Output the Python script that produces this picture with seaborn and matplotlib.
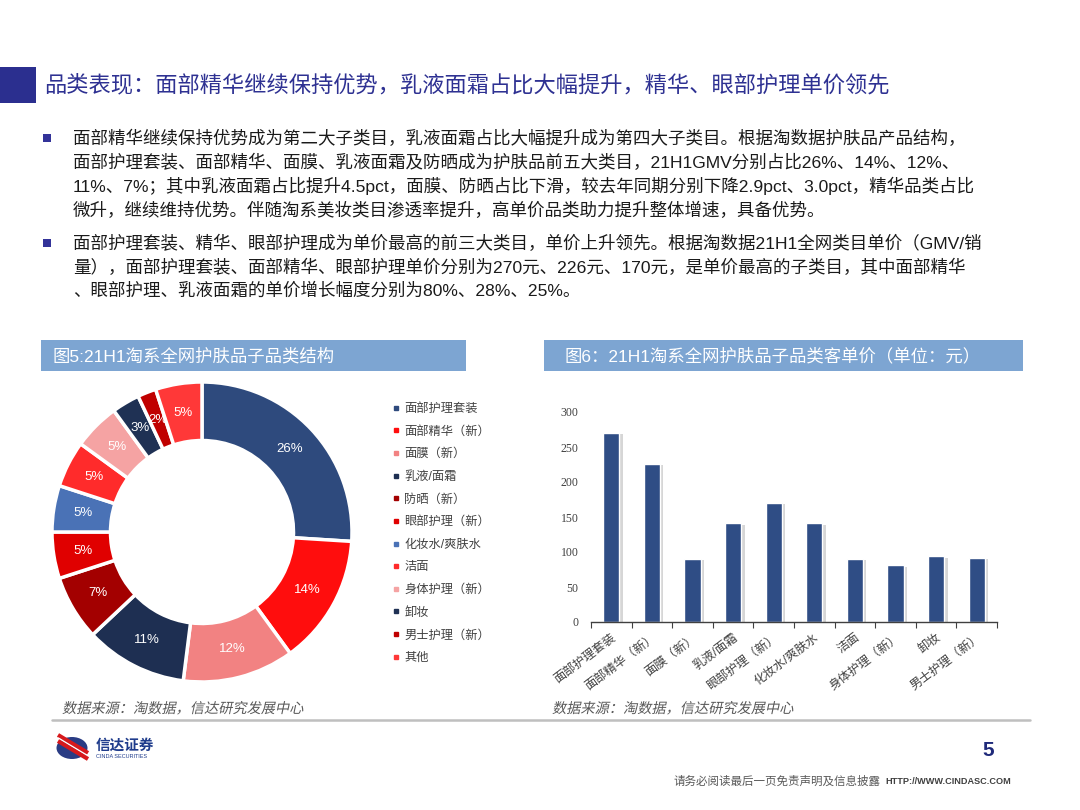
import numpy as np
import pandas as pd
import matplotlib
matplotlib.use('Agg')
import matplotlib.pyplot as plt
import matplotlib.patheffects as pe
from matplotlib.lines import Line2D
from matplotlib.patches import Rectangle, Ellipse, PathPatch
from matplotlib.textpath import TextPath
from matplotlib.font_manager import FontProperties
from matplotlib.transforms import Affine2D
import seaborn as sns

# data: donut (share of GMV, %)
share_labels = ['面部护理套装', '面部精华（新）', '面膜（新）', '乳液/面霜', '防晒（新）', '眼部护理（新）',
                '化妆水/爽肤水', '洁面', '身体护理（新）', '卸妆', '男士护理（新）', '其他']
share_values = [26, 14, 12, 11, 7, 5, 5, 5, 5, 3, 2, 5]
share_colors = ['#2E4A7D', '#FF0D0D', '#F28282', '#1E2F52', '#A30000', '#E00000',
                '#4A72B6', '#FF2B2B', '#F5A3A3', '#1F3154', '#C00000', '#FF3838']

# data: bar chart (unit price, yuan)
price_labels = ['面部护理套装', '面部精华（新）', '面膜（新）', '乳液/面霜', '眼部护理（新）',
                '化妆水/爽肤水', '洁面', '身体护理（新）', '卸妆', '男士护理（新）']
price_values = [270, 226, 90, 141, 170, 141, 90, 81, 94, 92]
price_ticks = [0, 50, 100, 150, 200, 250, 300]

title = '品类表现：面部精华继续保持优势，乳液面霜占比大幅提升，精华、眼部护理单价领先'
bullet1 = ['面部精华继续保持优势成为第二大子类目，乳液面霜占比大幅提升成为第四大子类目。根据淘数据护肤品产品结构，',
           '面部护理套装、面部精华、面膜、乳液面霜及防晒成为护肤品前五大类目，21H1GMV分别占比26%、14%、12%、',
           '11%、7%；其中乳液面霜占比提升4.5pct，面膜、防晒占比下滑，较去年同期分别下降2.9pct、3.0pct，精华品类占比',
           '微升，继续维持优势。伴随淘系美妆类目渗透率提升，高单价品类助力提升整体增速，具备优势。']
bullet2 = ['面部护理套装、精华、眼部护理成为单价最高的前三大类目，单价上升领先。根据淘数据21H1全网类目单价（GMV/销',
           '量），面部护理套装、面部精华、眼部护理单价分别为270元、226元、170元，是单价最高的子类目，其中面部精华',
           '、眼部护理、乳液面霜的单价增长幅度分别为80%、28%、25%。']
source = '数据来源：淘数据，信达研究发展中心'

sns.set_theme(style='white')
plt.rcParams['font.family'] = ['Liberation Sans', 'Noto Sans CJK SC', 'DejaVu Sans']

W, H = 1080, 810
def fx(x):
    return x / W
def fy(y):
    return 1 - y / H

fig = plt.figure(figsize=(10.8, 8.1), dpi=100)
fig.patch.set_facecolor('white')

# title bar
fig.add_artist(Rectangle((0, fy(103)), fx(36), 36 / H, transform=fig.transFigure,
                         facecolor='#2B2F8F', edgecolor='none'))
fig.text(fx(44), fy(86), title, fontsize=16, color='#2E3192', va='center', ha='left')

# bullets
def bullet(lines, y0):
    fig.add_artist(Rectangle((fx(43), fy(y0 + 4)), 8 / W, 8 / H, transform=fig.transFigure,
                             facecolor='#333399', edgecolor='none'))
    for i, line in enumerate(lines):
        fig.text(fx(73), fy(y0 + 24 * i), line, fontsize=12.6, color='#1A1A1A', va='center', ha='left')

bullet(bullet1, 138)
bullet(bullet2, 243)

# panel headers
head_color = '#7DA5D2'
fig.add_artist(Rectangle((fx(41), fy(371)), 425 / W, 31 / H, transform=fig.transFigure,
                         facecolor=head_color, edgecolor='none'))
fig.text(fx(53), fy(356), '图5:21H1淘系全网护肤品子品类结构', fontsize=12.5, color='white', va='center')
fig.add_artist(Rectangle((fx(544), fy(371)), 479 / W, 31 / H, transform=fig.transFigure,
                         facecolor=head_color, edgecolor='none'))
fig.text(fx(565), fy(356), '图6：21H1淘系全网护肤品子品类客单价（单位：元）', fontsize=12.5, color='white', va='center')

# donut
ax_pie = fig.add_axes([fx(42), fy(692), 320 / W, 320 / H])
wedges, texts, autotexts = ax_pie.pie(
    share_values, colors=share_colors, startangle=90, counterclock=False,
    wedgeprops=dict(width=0.39, edgecolor='white', linewidth=2.5),
    autopct=lambda p: f'{p:.0f}%', pctdistance=0.805,
    textprops=dict(color='white', fontsize=9.5))
ax_pie.set_xlim(-160 / 150, 160 / 150)
ax_pie.set_ylim(-160 / 150, 160 / 150)
ax_pie.set_aspect('equal')
ax_pie.axis('off')

handles = [Line2D([], [], marker='s', linestyle='none', markerfacecolor=c, markeredgecolor=c, markersize=3.2)
           for c in share_colors]
leg = fig.legend(handles=handles, labels=share_labels, loc='upper left',
                 bbox_to_anchor=(fx(392), fy(403)), frameon=False, fontsize=8.8,
                 labelspacing=0.87, handlelength=0.6, handletextpad=0.4,
                 borderaxespad=0, borderpad=0)
for t in leg.get_texts():
    t.set_color('#404040')

# bar chart
ax_bar = fig.add_axes([fx(591), fy(622), 406 / W, 210 / H])
df = pd.DataFrame({'cat': price_labels, 'price': price_values})
sns.barplot(data=df, x='cat', y='price', color='#2F4D85', saturation=1, width=0.4, ax=ax_bar)
for p in ax_bar.patches:
    p.set_path_effects([pe.SimplePatchShadow(offset=(2.5, -1), shadow_rgbFace='#8C8C8C', alpha=0.35),
                        pe.Normal()])
ax_bar.set_ylim(0, 300)
ax_bar.set_xlim(-0.5, len(price_labels) - 0.5)
ax_bar.set_yticks(price_ticks)
ax_bar.set_yticklabels([str(v) for v in price_ticks], fontsize=8.5, color='#404040',
                       family=['Liberation Serif', 'DejaVu Serif'])
ax_bar.tick_params(axis='y', length=0, pad=9)
ax_bar.set_xticks(range(len(price_labels)))
ax_bar.set_xticklabels(price_labels, rotation=37, ha='right', rotation_mode='anchor',
                       fontsize=8.8, color='#404040')
ax_bar.set_xticks(np.arange(len(price_labels) + 1) - 0.5, minor=True)
ax_bar.tick_params(axis='x', which='major', length=0, pad=7)
ax_bar.tick_params(axis='x', which='minor', length=4, width=0.8, direction='out', color='#404040', bottom=True)
ax_bar.set_xlabel('')
ax_bar.set_ylabel('')
for s in ['left', 'top', 'right']:
    ax_bar.spines[s].set_visible(False)
ax_bar.spines['bottom'].set_color('#404040')
ax_bar.spines['bottom'].set_linewidth(1)
ax_bar.set_facecolor('none')

# source notes (slanted CJK text)
def slanted(s, x, y, size, color):
    tp = TextPath((0, 0), s, size=size, prop=FontProperties(family='Noto Sans CJK SC'))
    tr = Affine2D().skew_deg(12, 0).translate(x, H - y)
    fig.add_artist(PathPatch(tp, transform=tr, facecolor=color, edgecolor='none'))

slanted(source, 62, 713, 14.2, '#595959')
slanted(source, 552, 713, 14.2, '#595959')
fig.add_artist(Line2D([fx(52), fx(1030)], [fy(719.5), fy(719.5)], color='#BFBFBF', lw=1.8,
                      transform=fig.transFigure))

# logo
fig.add_artist(Ellipse((fx(72), fy(748)), 31 / W, 22 / H, transform=fig.transFigure,
                       facecolor='#2A3C84', edgecolor='none'))
for dy, c, lw in [(-3, '#D7191C', 3), (0, 'white', 1.2), (3, '#D7191C', 3)]:
    fig.add_artist(Line2D([fx(58), fx(88)], [fy(738 + dy), fy(756 + dy)], color=c, lw=lw,
                          transform=fig.transFigure, solid_capstyle='butt'))
fig.text(fx(96), fy(746), '信达证券', fontsize=10.5, weight='bold', color='#1F3C8C', va='center')
fig.text(fx(96), fy(756), 'CINDA SECURITIES', fontsize=4, color='#1F3C8C', va='center')

# page footer
fig.text(fx(988), fy(750), '5', fontsize=15, weight='bold', color='#1F2A7A', ha='center', va='center')
fig.text(fx(673), fy(782), '请务必阅读最后一页免责声明及信息披露', fontsize=8.3, color='#595959', va='center')
fig.text(fx(1011), fy(782), 'HTTP://WWW.CINDASC.COM', fontsize=6.6, weight='bold', color='#404040',
         ha='right', va='center')

fig.savefig('out.png', dpi=100)
